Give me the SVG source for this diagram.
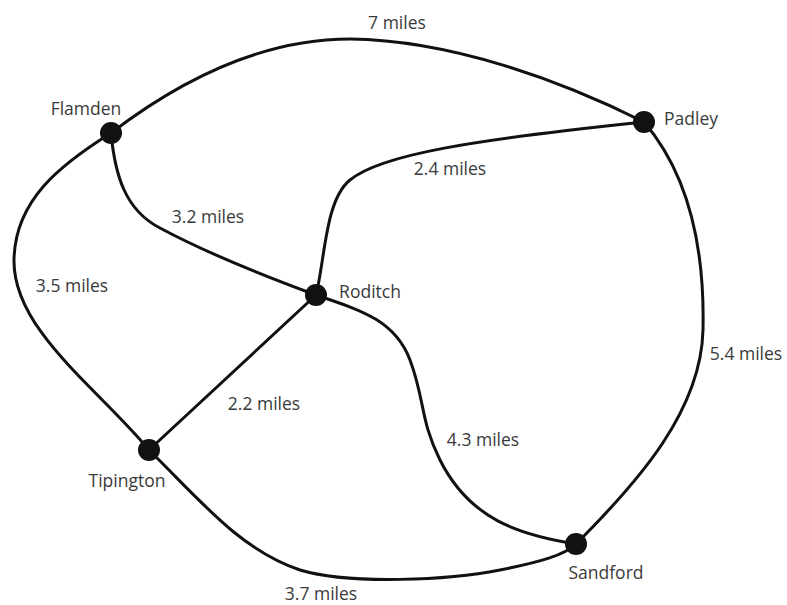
<svg xmlns="http://www.w3.org/2000/svg" width="787" height="605" viewBox="0 0 787 605">
<style>
.e{fill:none;stroke:#111;stroke-width:3;stroke-linecap:round}
.n{fill:#111}
text{font-family:"Open Sans","Liberation Sans",sans-serif;font-size:17.5px;fill:#3a3a3a;text-anchor:middle}
</style>
<rect width="787" height="605" fill="#fff"/>
<g id="connectors">
<path class="e" d="M111,133 C200,65 280,39 350,39 C450,40 560,80 644,122"/>
<path class="e" d="M111,133 C115,175 125,210 160,228 C210,255 270,278 316,295"/>
<path class="e" d="M111,133 C60,165 15,200 14,260 C13,330 100,390 149,450"/>
<path class="e" d="M316,295 C325,260 325,200 350,180 C380,155 470,140 644,122"/>
<path class="e" d="M316,295 L149,450"/>
<path class="e" d="M316,295 C360,310 395,320 410,360 C425,400 420,420 440,460 C470,520 520,535 576,544"/>
<path class="e" d="M644,122 C685,170 705,240 703,330 C701,410 640,480 576,544"/>
<path class="e" d="M149,450 C200,500 240,550 300,570 C350,585 450,580 500,570 C540,562 565,555 576,544"/>
</g>
<g id="labels">
<text x="397" y="29">7 miles</text>
<text x="450" y="175">2.4 miles</text>
<text x="208" y="223">3.2 miles</text>
<text x="72" y="292">3.5 miles</text>
<text x="746" y="360">5.4 miles</text>
<text x="264" y="410">2.2 miles</text>
<text x="483" y="446">4.3 miles</text>
<text x="321" y="600">3.7 miles</text>
</g>
<g id="Flamden"><circle class="n" cx="111" cy="133" r="11"/><text x="86" y="115">Flamden</text></g>
<g id="Padley"><circle class="n" cx="644" cy="122" r="11"/><text x="691" y="125">Padley</text></g>
<g id="Roditch"><circle class="n" cx="316" cy="295" r="11"/><text x="370" y="298">Roditch</text></g>
<g id="Tipington"><circle class="n" cx="149" cy="450" r="11"/><text x="127" y="487">Tipington</text></g>
<g id="Sandford"><circle class="n" cx="576" cy="544" r="11"/><text x="606" y="579">Sandford</text></g>
</svg>
